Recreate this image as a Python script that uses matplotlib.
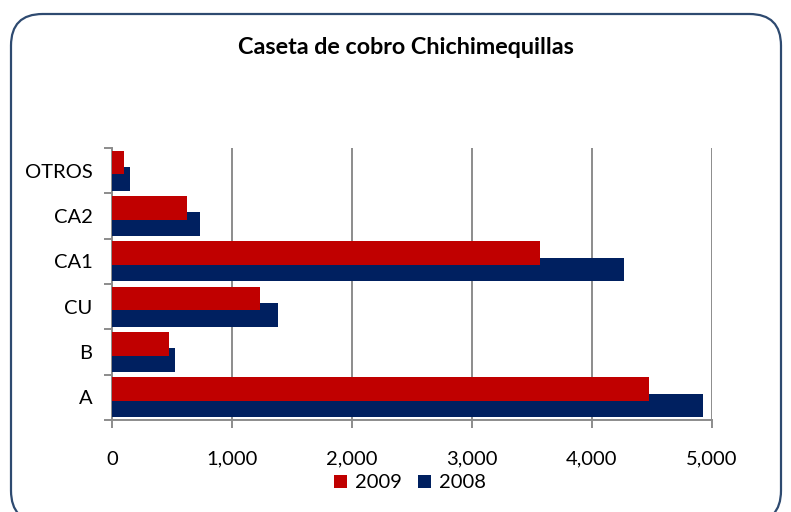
import matplotlib
matplotlib.use("Agg")
import matplotlib.pyplot as plt
from matplotlib.patches import FancyBboxPatch, Patch
from matplotlib.ticker import FuncFormatter
import numpy as np

categories = ["A", "B", "CU", "CA1", "CA2", "OTROS"]
values_2009 = [4475, 475, 1233, 3567, 625, 100]
values_2008 = [4925, 525, 1383, 4267, 735, 150]
x_ticks = [0, 1000, 2000, 3000, 4000, 5000]

RED = "#C00000"
NAVY = "#002060"
GRID = "#8C8C8C"
FONT = "Lato"
LABEL_SIZE = 14.5

fig = plt.figure(figsize=(7.91, 5.12), dpi=100)

# rounded outer frame, kept behind the axes
frame = FancyBboxPatch((11 / 791, -0.02), 770 / 791, 1 - 14 / 512 + 0.02,
                       boxstyle="round,pad=0,rounding_size=0.04",
                       transform=fig.transFigure, facecolor="white",
                       edgecolor="#2E4A70", linewidth=1.6,
                       mutation_aspect=791 / 512, zorder=-10)
fig.patches.append(frame)

ax = fig.add_axes([112 / 791, 1 - 420 / 512, 600 / 791, 272 / 512])
ax.set_facecolor("none")
ax.set_zorder(5)

y = np.arange(len(categories))
h = 0.52
off = 0.18
ax.barh(y - off, values_2008, height=h, color=NAVY, zorder=3, label="2008")
ax.barh(y + off, values_2009, height=h, color=RED, zorder=4, label="2009")

ax.set_xlim(0, 5000)
ax.set_ylim(-0.5, len(categories) - 0.5)
ax.set_xticks(x_ticks)
ax.xaxis.set_major_formatter(FuncFormatter(lambda v, p: f"{int(v):,}"))
ax.set_yticks(y)
ax.set_yticklabels(categories)
ax.set_yticks(np.arange(-0.5, len(categories)), minor=True)

ax.grid(axis="x", color=GRID, linewidth=1.4, zorder=0)
for s in ["top", "right"]:
    ax.spines[s].set_visible(False)
for s in ["left", "bottom"]:
    ax.spines[s].set_color(GRID)
    ax.spines[s].set_linewidth(1.4)

ax.tick_params(axis="y", which="major", length=0, pad=14, labelsize=LABEL_SIZE)
ax.tick_params(axis="y", which="minor", length=6, width=1.4, color=GRID)
ax.tick_params(axis="x", which="major", length=6, width=1.4, color=GRID,
               pad=16, labelsize=LABEL_SIZE)
for lab in ax.get_xticklabels() + ax.get_yticklabels():
    lab.set_fontfamily(FONT)

fig.text(406 / 791, 1 - 47 / 512, "Caseta de cobro Chichimequillas",
         ha="center", va="center", fontsize=16.8, fontweight="bold", family=FONT)

handles = [Patch(facecolor=RED, label="2009"), Patch(facecolor=NAVY, label="2008")]
fig.legend(handles=handles, loc="center", bbox_to_anchor=(410 / 791, 1 - 483 / 512),
           ncol=2, frameon=False, prop={"family": FONT, "size": LABEL_SIZE},
           handlelength=0.65, handleheight=0.65, handletextpad=0.4, columnspacing=0.8)

fig.savefig("out.png", dpi=100)
